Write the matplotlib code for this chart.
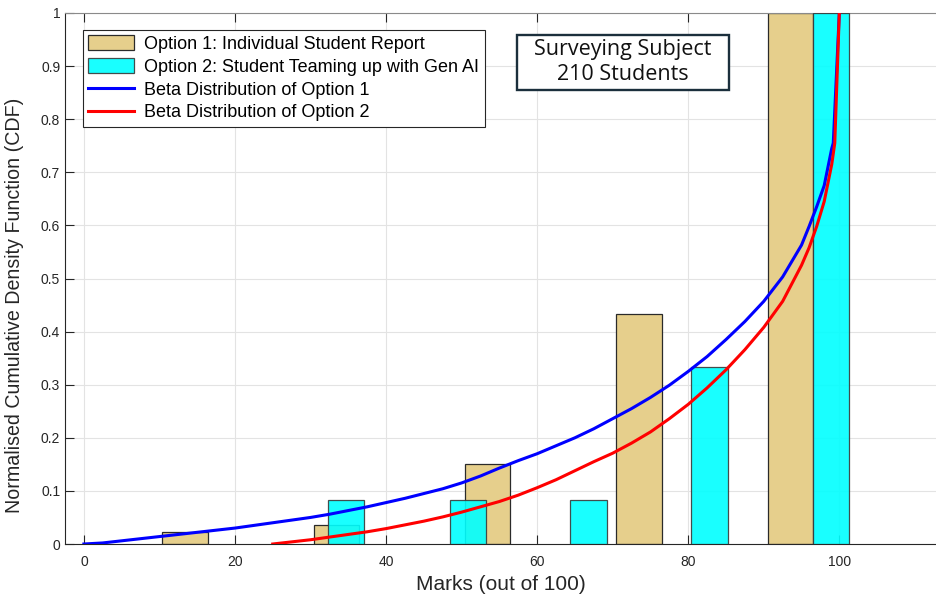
import matplotlib
matplotlib.use("Agg")
import matplotlib.pyplot as plt
from matplotlib.patches import Patch, Rectangle
from matplotlib.lines import Line2D

# ---- data ----
opt1_centers = [13.4, 33.4, 53.4, 73.5, 93.5]
opt1_heights = [0.023, 0.035, 0.150, 0.434, 1.0]
opt2_centers = [34.7, 50.8, 66.8, 82.8, 98.9]
opt2_heights = [0.0833, 0.0833, 0.0833, 0.3333, 1.0]

beta1_x = [0, 2.5, 5, 7.5, 10, 12.5, 15, 17.5, 20, 22.5, 25, 27.5, 30, 32.5, 35, 37.5, 40,
           42.5, 45, 47.5, 50, 52.5, 55, 57.5, 60, 62.5, 65, 67.5, 70, 72.5, 75, 77.5, 80,
           82.5, 85, 87.5, 90, 92.5, 95, 96, 97, 98, 99, 99.2, 100]
beta1_y = [0, 0.002, 0.006, 0.010, 0.014, 0.018, 0.022, 0.026, 0.030, 0.035, 0.040, 0.045,
           0.050, 0.056, 0.063, 0.070, 0.078, 0.086, 0.095, 0.104, 0.115, 0.128, 0.143, 0.157,
           0.170, 0.185, 0.200, 0.217, 0.236, 0.255, 0.276, 0.299, 0.325, 0.353, 0.385, 0.419,
           0.457, 0.503, 0.563, 0.598, 0.635, 0.675, 0.745, 0.755, 1.0]
beta2_x = [25, 27.5, 30, 32.5, 35, 37.5, 40, 42.5, 45, 47.5, 50, 52.5, 55, 57.5, 60, 62.5, 65,
           67.5, 70, 72.5, 75, 77.5, 80, 82.5, 85, 87.5, 90, 92.5, 95, 96, 97, 98, 99, 99.4, 100]
beta2_y = [0, 0.004, 0.008, 0.013, 0.018, 0.023, 0.029, 0.036, 0.043, 0.051, 0.060, 0.070,
           0.080, 0.092, 0.106, 0.121, 0.138, 0.155, 0.171, 0.190, 0.211, 0.236, 0.263, 0.294,
           0.328, 0.366, 0.408, 0.457, 0.525, 0.558, 0.598, 0.645, 0.715, 0.755, 1.0]

xticks = [0, 20, 40, 60, 80, 100]
yticks = [0, 0.1, 0.2, 0.3, 0.4, 0.5, 0.6, 0.7, 0.8, 0.9, 1]
ytick_labels = ["0", "0.1", "0.2", "0.3", "0.4", "0.5", "0.6", "0.7", "0.8", "0.9", "1"]

legend_labels = ["Option 1: Individual Student Report",
                 "Option 2: Student Teaming up with Gen AI",
                 "Beta Distribution of Option 1",
                 "Beta Distribution of Option 2"]
box_text = "Surveying Subject\n210 Students"

tan = "#E6CF8C"
cyan = "#00FFFF"

plt.rcParams['font.family'] = ['Liberation Sans', 'DejaVu Sans']

fig = plt.figure(figsize=(9.36, 5.95), dpi=100)
ax = fig.add_axes([65/936, 51/595, 871/936, 531/595])

ax.bar(opt1_centers, opt1_heights, width=6.0, color=tan, edgecolor="#2a2a2a", linewidth=0.9, zorder=2)
ax.bar(opt2_centers, opt2_heights, width=4.8, color=cyan, alpha=0.9, edgecolor="#3a3a3a", linewidth=0.9, zorder=3)
ax.plot(beta1_x, beta1_y, color="#0000FF", lw=2.2, zorder=4, solid_joinstyle="round")
ax.plot(beta2_x, beta2_y, color="#FF0000", lw=2.2, zorder=4, solid_joinstyle="round")

ax.set_xlim(-2.5, 112.8)
ax.set_ylim(0, 1)
ax.set_xticks(xticks)
ax.set_yticks(yticks)
ax.set_yticklabels(ytick_labels)
ax.tick_params(direction='in', length=6.5, width=0.8, top=True, labelsize=10, colors="#262626")
ax.tick_params(axis='x', pad=8)
ax.grid(True, color="#e3e3e3", lw=0.8)
ax.set_axisbelow(True)

for s in ["left", "bottom"]:
    ax.spines[s].set_color("#262626")
    ax.spines[s].set_linewidth(0.8)
ax.spines["top"].set_color("#8a8a8a")
ax.spines["top"].set_linewidth(0.8)
ax.spines["right"].set_visible(False)

ax.set_xlabel("Marks (out of 100)", fontsize=15, color="#262626", labelpad=4)
ax.set_ylabel("Normalised Cumulative Density Function (CDF)", fontsize=14.1, color="#262626")
ax.yaxis.set_label_coords(-0.047, 0.45)

handles = [Patch(facecolor=tan, edgecolor="#2a2a2a", linewidth=0.9),
           Patch(facecolor=cyan, edgecolor="#3a3a3a", linewidth=0.9, alpha=0.9),
           Line2D([], [], color="#0000FF", lw=2.2),
           Line2D([], [], color="#FF0000", lw=2.2)]
leg = ax.legend(handles, legend_labels, loc="upper left", bbox_to_anchor=(0.0207, 0.968),
                borderaxespad=0, fontsize=13, fancybox=False, framealpha=1,
                edgecolor="#262626", handlelength=2.55, handleheight=0.85,
                handletextpad=0.55, labelspacing=0.3, borderpad=0.3)
leg.get_frame().set_linewidth(0.8)
leg.set_zorder(10)

ax.add_patch(Rectangle((0.519, 0.855), 0.243, 0.1036, transform=ax.transAxes,
                       facecolor="white", edgecolor="#1b2f3c", linewidth=1.7, zorder=11))
ax.text(0.6406, 0.9077, box_text, transform=ax.transAxes, ha="center", va="center",
        fontsize=15.5, family=["Open Sans", "DejaVu Sans"], linespacing=1.3, color="#111111",
        zorder=12)

fig.savefig("out.png", dpi=100)
